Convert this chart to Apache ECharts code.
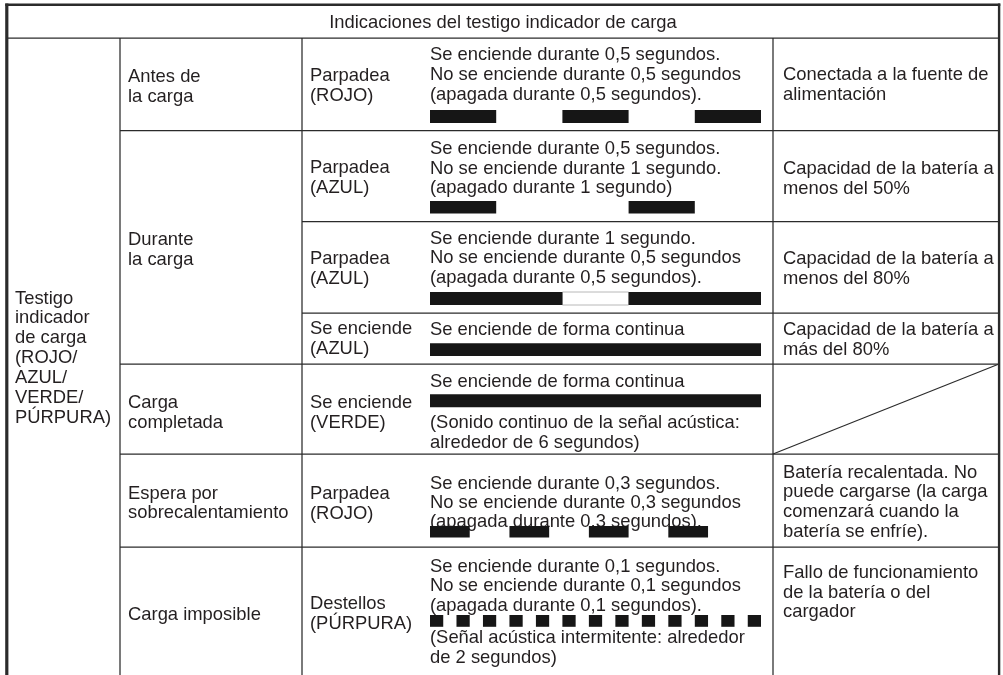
<!DOCTYPE html>
<html><head><meta charset="utf-8">
<script src="https://cdn.jsdelivr.net/npm/echarts@6/dist/echarts.min.js"></script>
<style>html,body{margin:0;padding:0;background:#fff}#c{width:1003px;height:675px}</style>
</head><body><div id="c"></div>
<script>
// ---------- DATA ----------
const titleText = "Indicaciones del testigo indicador de carga";
const indicatorLabel = ["Testigo","indicador","de carga","(ROJO/","AZUL/","VERDE/","PÚRPURA)"];
const phaseLabels = [
  ["Antes de","la carga"],
  ["Durante","la carga"],
  ["Carga","completada"],
  ["Espera por","sobrecalentamiento"],
  ["Carga imposible"]
];
const modeLabels = [
  ["Parpadea","(ROJO)"],
  ["Parpadea","(AZUL)"],
  ["Parpadea","(AZUL)"],
  ["Se enciende","(AZUL)"],
  ["Se enciende","(VERDE)"],
  ["Parpadea","(ROJO)"],
  ["Destellos","(PÚRPURA)"]
];
const patternText = [
  ["Se enciende durante 0,5 segundos.","No se enciende durante 0,5 segundos","(apagada durante 0,5 segundos)."],
  ["Se enciende durante 0,5 segundos.","No se enciende durante 1 segundo.","(apagado durante 1 segundo)"],
  ["Se enciende durante 1 segundo.","No se enciende durante 0,5 segundos","(apagada durante 0,5 segundos)."],
  ["Se enciende de forma continua"],
  ["Se enciende de forma continua"],
  ["Se enciende durante 0,3 segundos.","No se enciende durante 0,3 segundos","(apagada durante 0,3 segundos)."],
  ["Se enciende durante 0,1 segundos.","No se enciende durante 0,1 segundos","(apagada durante 0,1 segundos)."]
];
const patternNotes = [
  [],[],[],[],
  ["(Sonido continuo de la señal acústica:","alrededor de 6 segundos)"],
  [],
  ["(Señal acústica intermitente: alrededor","de 2 segundos)"]
];
const meaningLabels = [
  ["Conectada a la fuente de","alimentación"],
  ["Capacidad de la batería a","menos del 50%"],
  ["Capacidad de la batería a","menos del 80%"],
  ["Capacidad de la batería a","más del 80%"],
  [],
  ["Batería recalentada. No","puede cargarse (la carga","comenzará cuando la","batería se enfríe)."],
  ["Fallo de funcionamiento","de la batería o del","cargador"]
];
// light ON intervals, seconds [start, end]
const onSegments = [
  [[0,0.5],[1,1.5],[2,2.5]],
  [[0,0.5],[1.5,2]],
  [[0,1],[1.5,2.5]],
  [[0,2.5]],
  [[0,2.5]],
  [[0,0.3],[0.6,0.9],[1.2,1.5],[1.8,2.1]],
  [[0,0.1],[0.2,0.3],[0.4,0.5],[0.6,0.7],[0.8,0.9],[1,1.1],[1.2,1.3],[1.4,1.5],[1.6,1.7],[1.8,1.9],[2,2.1],[2.2,2.3],[2.4,2.5]]
];
// OFF intervals drawn as outlined blanks
const offSegments = [[],[],[[1,1.5]],[],[],[],[]];
const timeMin = 0, timeMax = 2.5;

// ---------- LAYOUT ----------
const FONT = '18.4px "Liberation Sans", Arial, sans-serif';
const INK = '#231f20';
const LINE = '#2b2b2b';
const colX = {c1:15, c2:128, c3:310, c4:430, c5:783};
const indicatorY0 = 298.5, indicatorStep = 19.9;
const phaseY = [77, 240, 403, 493.5, 615];
const modeY = [76, 168.3, 258.5, 328.5, 403, 493.5, 604];
const patternY = [54.8, 149, 238.5, 330, 381.5, 484, 566.7];
const patternStep = [20, 19.6, 19.8, 20, 20, 19.1, 19.5];
const noteY = [0,0,0,0,423,0,638.3];
const meaningY = [75, 168.5, 258.5, 330, 0, 472.7, 573.3];
const meaningStep = [20, 20, 20, 20, 20, 19.7, 19.3];
const barTop = [110, 201, 292, 343.3, 394.3, 525.9, 615];
const barH = [13, 12.5, 13, 12.7, 13, 11.6, 11.8];
const barLeft = 430, barWidth = 331;

const graphics = [];
function addLines(lines, x, y0, step, extra){
  lines.forEach((t, j) => {
    graphics.push(Object.assign({
      type:'text', x:x, y:y0 + j*step, silent:true,
      style:{text:t, font:FONT, fill:INK, align:'left', verticalAlign:'middle'}
    }, extra||{}));
  });
}
function addLine(x1,y1,x2,y2,w){
  graphics.push({type:'line', silent:true, shape:{x1,y1,x2,y2}, style:{stroke:LINE, lineWidth:w||1.25}});
}
// borders
addLine(5.3, 4.7, 1000.3, 4.7, 2.6);
addLine(6.8, 3.4, 6.8, 675, 3.2);
addLine(999.1, 3.4, 999.1, 675, 2.4);
// column lines
addLine(120, 38, 120, 675);
addLine(302, 38, 302, 675);
addLine(773, 38, 773, 675);
// row lines
addLine(7, 38, 999, 38);
addLine(120, 130.5, 999, 130.5);
addLine(302, 221.5, 999, 221.5);
addLine(302, 313, 999, 313);
addLine(120, 364, 999, 364);
addLine(120, 454, 999, 454);
addLine(120, 547, 999, 547);
// diagonal in empty cell
addLine(773, 454, 999, 364, 1.2);

// texts
graphics.push({type:'text', x:503, y:22.5, silent:true,
  style:{text:titleText, font:FONT, fill:INK, align:'center', verticalAlign:'middle'}});
addLines(indicatorLabel, colX.c1, indicatorY0, indicatorStep);
phaseLabels.forEach((l,i)=>addLines(l, colX.c2, phaseY[i], 19.8));
modeLabels.forEach((l,i)=>addLines(l, colX.c3, modeY[i], 20));
patternText.forEach((l,i)=>addLines(l, colX.c4, patternY[i], patternStep[i]));
patternNotes.forEach((l,i)=>{ if(l.length) addLines(l, colX.c4, noteY[i], 20); });
meaningLabels.forEach((l,i)=>{ if(l.length) addLines(l, colX.c5, meaningY[i], meaningStep[i]); });

// ---------- TIMELINE GRIDS ----------
const grids = [], xAxes = [], yAxes = [], series = [];
function segRenderer(fill, stroke){
  return function(params, api){
    const a = api.coord([api.value(0), 0]);
    const b = api.coord([api.value(1), 0]);
    const h = api.size([0, 1])[1];
    return {type:'rect', shape:{x:a[0], y:a[1]-h/2, width:b[0]-a[0], height:h},
      style:{fill:fill, stroke:stroke||null, lineWidth:stroke?1:0}};
  };
}
onSegments.forEach((segs, i) => {
  grids.push({left:barLeft, width:barWidth, top:barTop[i], height:barH[i], containLabel:false});
  xAxes.push({type:'value', gridIndex:i, min:timeMin, max:timeMax, show:false});
  yAxes.push({type:'category', gridIndex:i, data:['r'], show:false});
  if (offSegments[i].length) {
    series.push({type:'custom', xAxisIndex:i, yAxisIndex:i, silent:true, z:1,
      renderItem: segRenderer('#ffffff', '#b8b8b8'),
      encode:{x:[0,1], y:2},
      data: offSegments[i].map(s => [s[0], s[1], 0])});
  }
  series.push({type:'custom', xAxisIndex:i, yAxisIndex:i, silent:true, z:2,
    renderItem: segRenderer('#161616'),
    encode:{x:[0,1], y:2},
    data: segs.map(s => [s[0], s[1], 0])});
});

const chart = echarts.init(document.getElementById('c'), null, {renderer:'canvas'});
chart.setOption({
  animation:false,
  backgroundColor:'#ffffff',
  grid: grids, xAxis: xAxes, yAxis: yAxes, series: series,
  graphic: {elements: graphics}
});
</script>
</body></html>
